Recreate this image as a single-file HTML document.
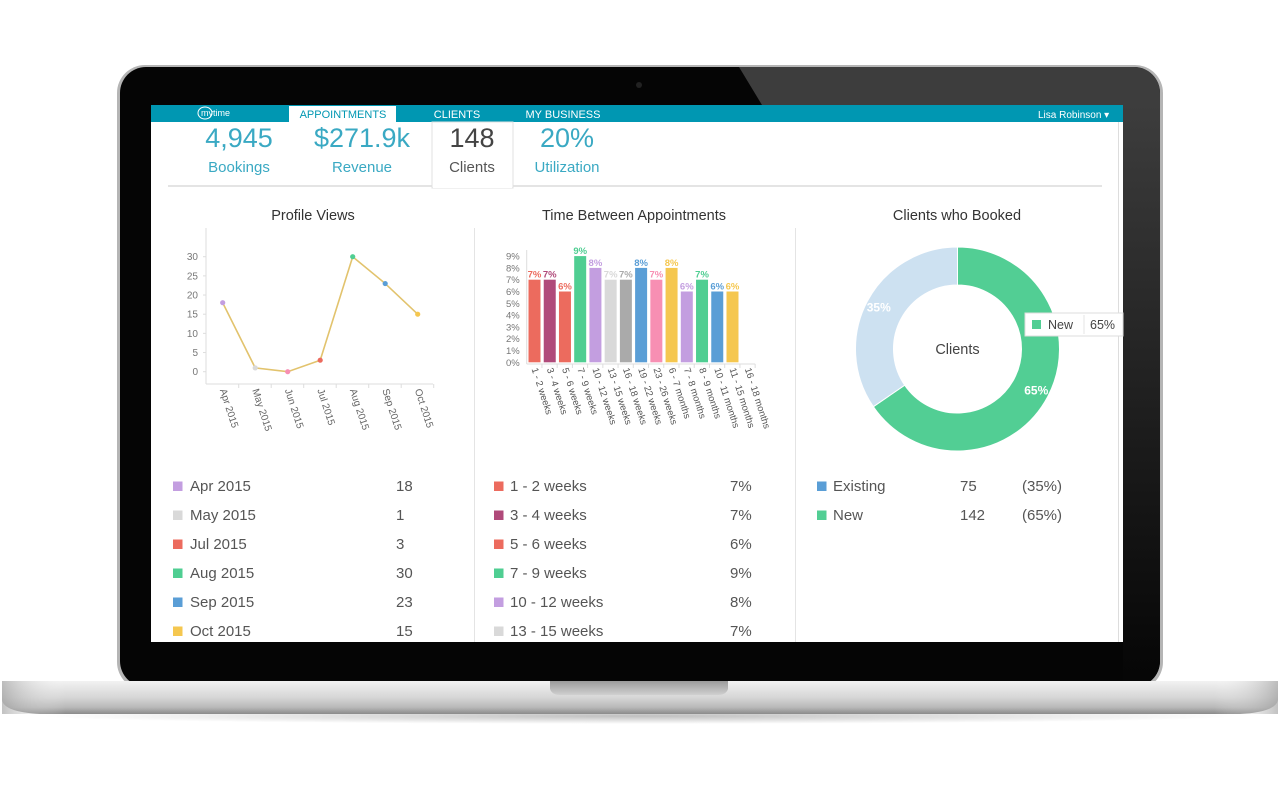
<!DOCTYPE html>
<html><head><meta charset="utf-8"><style>
html,body{margin:0;padding:0;width:1280px;height:800px;overflow:hidden;background:#fff}
svg{display:block;font-family:"Liberation Sans",sans-serif}
</style></head><body>
<svg id="s" width="1280" height="800" viewBox="0 0 1280 800">
<defs>
<linearGradient id="base" x1="0" y1="0" x2="0" y2="1"><stop offset="0" stop-color="#f2f2f2"/><stop offset="0.5" stop-color="#d6d6d6"/><stop offset="0.8" stop-color="#b8b8b8"/><stop offset="1" stop-color="#8a8a8a"/></linearGradient>
<linearGradient id="baseh" x1="0" y1="0" x2="1" y2="0"><stop offset="0" stop-color="#999" stop-opacity=".6"/><stop offset=".05" stop-color="#fff" stop-opacity="0"/><stop offset=".95" stop-color="#fff" stop-opacity="0"/><stop offset="1" stop-color="#999" stop-opacity=".6"/></linearGradient>
<linearGradient id="notch" x1="0" y1="0" x2="0" y2="1"><stop offset="0" stop-color="#9a9a9a"/><stop offset="1" stop-color="#d0d0d0"/></linearGradient>
<linearGradient id="rbez" x1="0" y1="0" x2="0" y2="1"><stop offset="0" stop-color="#3d3d3d"/><stop offset="0.6" stop-color="#1a1a1a"/><stop offset="1" stop-color="#050505"/></linearGradient>
<radialGradient id="shadow" cx=".5" cy=".5" r=".5"><stop offset="0" stop-color="#000" stop-opacity=".25"/><stop offset="1" stop-color="#000" stop-opacity="0"/></radialGradient>
<clipPath id="bezclip"><rect x="120" y="67" width="1040" height="620" rx="26"/></clipPath>
</defs>
<g>
<rect x="117" y="65" width="1046" height="625" rx="28" fill="#b5b5b5"/>
<rect x="120" y="67" width="1040" height="620" rx="26" fill="#050505"/>
<g clip-path="url(#bezclip)">
<polygon points="739,67 1160,67 1160,105 762,105" fill="#3d3d3d"/>
<rect x="1123" y="105" width="37" height="582" fill="url(#rbez)"/>
</g>
<circle cx="639" cy="85" r="3" fill="#222"/>
</g>
<ellipse cx="640" cy="716" rx="600" ry="8" fill="url(#shadow)"/>
<path d="M2,681 L1278,681 L1278,700 Q1276,712 1240,714 L40,714 Q4,712 2,700 Z" fill="url(#base)"/>
<rect x="2" y="681" width="1276" height="33" fill="url(#baseh)"/>
<path d="M550,681 L728,681 L728,689 Q726,695 718,695 L560,695 Q552,695 550,689 Z" fill="url(#notch)"/>

<rect x="151" y="105" width="972" height="537" fill="#fff"/>
<rect x="151" y="105" width="972" height="17" fill="#0097b2"/>
<g><ellipse cx="205" cy="113" rx="7" ry="6" fill="none" stroke="#fff" stroke-width="1"/><text x="201" y="116" font-size="9" fill="#fff">mytime</text></g>
<rect x="289" y="106" width="107" height="16" fill="#fff"/>
<text x="343" y="118" font-size="11" fill="#0097b2" text-anchor="middle">APPOINTMENTS</text>
<text x="457" y="118" font-size="11" fill="#fff" text-anchor="middle">CLIENTS</text>
<text x="563" y="118" font-size="11" fill="#fff" text-anchor="middle">MY BUSINESS</text>
<text x="1038" y="118" font-size="10" fill="#fff">Lisa  Robinson ▾</text>

<line x1="168" y1="186" x2="1102" y2="186" stroke="#e4e4e4" stroke-width="2"/>
<rect x="432" y="122" width="81" height="66" fill="#fff" stroke="#e0e0e0"/>
<rect x="433" y="184" width="79" height="4" fill="#fff"/>
<g font-size="27" text-anchor="middle">
<text x="239" y="147" fill="#3aa9c3">4,945</text>
<text x="362" y="147" fill="#3aa9c3">$271.9k</text>
<text x="472" y="147" fill="#444">148</text>
<text x="567" y="147" fill="#3aa9c3">20%</text>
</g>
<g font-size="15" text-anchor="middle">
<text x="239" y="172" fill="#3aa9c3">Bookings</text>
<text x="362" y="172" fill="#3aa9c3">Revenue</text>
<text x="472" y="172" fill="#555">Clients</text>
<text x="567" y="172" fill="#3aa9c3">Utilization</text>
</g>
<g font-size="14.5" fill="#333" text-anchor="middle">
<text x="313" y="220">Profile Views</text>
<text x="634" y="220">Time Between Appointments</text>
<text x="957" y="220">Clients who Booked</text>
</g>
<line x1="474.5" y1="228" x2="474.5" y2="642" stroke="#e4e4e4"/>
<line x1="795.5" y1="228" x2="795.5" y2="642" stroke="#e4e4e4"/>
<line x1="1118.5" y1="122" x2="1118.5" y2="642" stroke="#ddd"/>
<g id="line-chart"></g>
<g id="bar-chart"></g>
<g id="donut"></g>
<g id="legends"></g>
</svg>
<script>
const months=["Apr 2015","May 2015","Jun 2015","Jul 2015","Aug 2015","Sep 2015","Oct 2015"];
const views=[18,1,0,3,30,23,15];
const viewColors=["#c39ee0","#d9d9d9","#f78fb3","#ec6b5e","#4fce92","#5a9ed6","#f5c74f"];
const viewTicks=[0,5,10,15,20,25,30];
const gaps=["1 - 2 weeks","3 - 4 weeks","5 - 6 weeks","7 - 9 weeks","10 - 12 weeks","13 - 15 weeks","16 - 18 weeks","19 - 22 weeks","23 - 26 weeks","6 - 7 months","7 - 8 months","8 - 9 months","10 - 11 months","11 - 15 months","16 - 18 months"];
const gapPct=[7,7,6,9,8,7,7,8,7,8,6,7,6,6,0];
const gapColors=["#ec6b5e","#b04a7a","#ec6b5e","#4fce92","#c39ee0","#d9d9d9","#aaaaaa","#5a9ed6","#f78fb3","#f5c74f","#c39ee0","#4fce92","#5a9ed6","#f5c74f","#ccc"];
const pctTicks=[0,1,2,3,4,5,6,7,8,9];
const clientCats=["Existing","New"];
const clientCounts=[75,142];
const clientColors=["#cde1f1","#52ce94"];
const clientLegendColors=["#5a9ed6","#52ce94"];

const NS="http://www.w3.org/2000/svg";
function mk(p,tag,attrs,txt){const e=document.createElementNS(NS,tag);for(const k in attrs)e.setAttribute(k,attrs[k]);if(txt!==undefined)e.textContent=txt;p.appendChild(e);return e;}

(function(){
const g=document.getElementById('line-chart');
const y=v=>371.7-v*3.833, x=i=>222.7+i*32.5;
mk(g,'line',{x1:206,y1:228,x2:206,y2:384,stroke:'#ddd'});
mk(g,'line',{x1:206,y1:384,x2:433,y2:384,stroke:'#ddd'});
viewTicks.forEach(t=>{
 const l=mk(g,'text',{x:198,y:y(t)+3.5,'font-size':10,fill:'#777','text-anchor':'end'},String(t));
 
 
 mk(g,'line',{x1:203,y1:y(t),x2:206,y2:y(t),stroke:'#ddd'});
});
let d=views.map((v,i)=>(i?'L':'M')+x(i)+','+y(v)).join(' ');
const p=mk(g,'path',{d:d,fill:'none',stroke:'#e2c36d','stroke-width':1.6});


views.forEach((v,i)=>{
 const c=mk(g,'circle',{cx:x(i),cy:y(v),r:2.6,fill:viewColors[i]});
 
 
 mk(g,'line',{x1:x(i)+16,y1:384,x2:x(i)+16,y2:388,stroke:'#ddd'});
 const t=mk(g,'text',{x:0,y:0,'font-size':10,fill:'#666',transform:`translate(${x(i)-3},${390}) rotate(72)`},months[i]);
 
 
});
})();

(function(){
const g=document.getElementById('bar-chart');
const y=v=>362.3-v*11.8, bw=15.23, x0=526.7;
mk(g,'line',{x1:x0,y1:250,x2:x0,y2:364,stroke:'#ddd'});
mk(g,'line',{x1:x0,y1:364,x2:x0+bw*gaps.length,y2:364,stroke:'#ddd'});
pctTicks.forEach(t=>{
 const l=mk(g,'text',{x:x0-7,y:y(t)+3.5,'font-size':9.5,fill:'#777','text-anchor':'end'},t+'%');
 
 
});
gaps.forEach((c,i)=>{
 const bx=x0+i*bw+1.8, v=gapPct[i];
 if(v>0){
  const r=mk(g,'rect',{x:bx,y:y(v),width:12,height:362.3-y(v),fill:gapColors[i]});
  
  
  const l=mk(g,'text',{x:bx+6,y:y(v)-2,'font-size':9.5,'font-weight':'bold',fill:gapColors[i],'text-anchor':'middle'},v+'%');
  
  
 }
 mk(g,'line',{x1:x0+(i+1)*bw,y1:364,x2:x0+(i+1)*bw,y2:368,stroke:'#ddd'});
 const t=mk(g,'text',{x:0,y:0,'font-size':9.5,fill:'#555',transform:`translate(${bx+3},${369}) rotate(72)`},c);
 
 
});
})();

(function(){
const g=document.getElementById('donut');
const cx=957.5,cy=349,R=102,r=64;
const tot=clientCounts.reduce((a,b)=>a+b,0);
const order=[1,0];let a0=0;
order.forEach(i=>{
 const frac=clientCounts[i]/tot, a1=a0+frac*2*Math.PI;
 const P=(rad,a)=>[cx+rad*Math.sin(a),cy-rad*Math.cos(a)];
 const [x1,y1]=P(R,a0),[x2,y2]=P(R,a1),[x3,y3]=P(r,a1),[x4,y4]=P(r,a0);
 const lg=frac>.5?1:0;
 const p=mk(g,'path',{d:`M${x1},${y1} A${R},${R} 0 ${lg} 1 ${x2},${y2} L${x3},${y3} A${r},${r} 0 ${lg} 0 ${x4},${y4} Z`,fill:clientColors[i],stroke:'#fff','stroke-width':1});
 
 
 const am=(a0+a1)/2,[lx,ly]=P((R+r)/2+6,am);
 const l=mk(g,'text',{x:lx,y:ly+4,'font-size':12,'font-weight':'bold',fill:'#fff','text-anchor':'middle'},Math.round(frac*100)+'%');
 
 
 a0=a1;
});
const c=mk(g,'text',{x:cx,y:cy+5,'font-size':14.5,fill:'#444','text-anchor':'middle'},'Clients');


const tt=mk(g,'g',{});


mk(tt,'rect',{x:1025,y:313,width:98,height:23,fill:'#fff',stroke:'#ddd'});
mk(tt,'rect',{x:1032,y:320,width:9,height:9,fill:clientColors[1]});
mk(tt,'text',{x:1048,y:329,'font-size':12.5,fill:'#444'},clientCats[1]);
mk(tt,'line',{x1:1084,y1:315,x2:1084,y2:334,stroke:'#e4e4e4'});
mk(tt,'text',{x:1090,y:329,'font-size':12.5,fill:'#444'},Math.round(clientCounts[1]/tot*100)+'%');
})();

(function(){
const g=document.getElementById('legends');
const rowY=i=>491+i*29;
function row(sx,tx,vx,i,color,label,val,name){
 const r=mk(g,'g',{});
 
 
 mk(r,'rect',{x:sx,y:rowY(i)-9.5,width:9.5,height:9.5,fill:color});
 mk(r,'text',{x:tx,y:rowY(i),'font-size':15,fill:'#555'},label);
 mk(r,'text',{x:vx,y:rowY(i),'font-size':15,fill:'#555'},val);
}
const lv=[0,1,3,4,5,6];
lv.forEach((k,i)=>row(173,190,396,i,viewColors[k],months[k],String(views[k]),'legend-entry-'+months[k].toLowerCase().replace(' ','-')));
for(let i=0;i<6;i++)row(494,510,730,i,gapColors[i],gaps[i],gapPct[i]+'%','legend-entry-gap-'+i);
const tot=clientCounts.reduce((a,b)=>a+b,0);
clientCats.forEach((c,i)=>{
 row(817,833,960,i,clientLegendColors[i],c,String(clientCounts[i]),'legend-entry-'+c.toLowerCase());
 mk(g,'text',{x:1022,y:rowY(i),'font-size':15,fill:'#555'},'('+Math.round(clientCounts[i]/tot*100)+'%)');
});
})();
</script>
</body></html>
